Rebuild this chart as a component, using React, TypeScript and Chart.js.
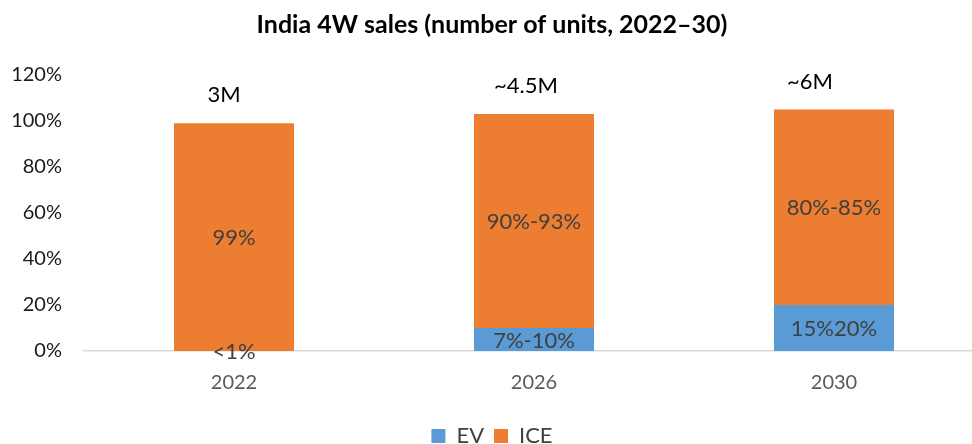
import React, { useEffect, useRef } from "react";
import { Chart, registerables } from "chart.js";

Chart.register(...registerables);

const categories = ["2022", "2026", "2030"];
const evShare = [0, 10, 20];
const iceShare = [99, 93, 85];
const evLabels = ["<1%", "7%-10%", "15%20%"];
const iceLabels = ["99%", "90%-93%", "80%-85%"];
const totalLabels = ["3M", "~4.5M", "~6M"];
const yMin = 0;
const yMax = 120;
const yStep = 20;

const FONT = "Lato, 'Noto Sans', sans-serif";

const labelPlugin = {
  id: "barLabels",
  afterDatasetsDraw(chart: any) {
    const ctx = chart.ctx;
    ctx.save();
    const sets = [evLabels, iceLabels];
    chart.data.datasets.forEach((_: any, di: number) => {
      const meta = chart.getDatasetMeta(di);
      meta.data.forEach((el: any, i: number) => {
        const y = (el.y + el.base) / 2;
        ctx.font = `22px ${FONT}`;
        ctx.fillStyle = "#404040";
        ctx.textAlign = "center";
        ctx.textBaseline = "middle";
        ctx.fillText(sets[di][i], el.x, y + 1);
      });
    });
    const top = chart.getDatasetMeta(chart.data.datasets.length - 1);
    const dx = [-10, -8, -24];
    top.data.forEach((el: any, i: number) => {
      ctx.font = `22px ${FONT}`;
      ctx.fillStyle = "#000000";
      ctx.textAlign = "center";
      ctx.textBaseline = "alphabetic";
      ctx.fillText(totalLabels[i], el.x + dx[i], el.y - 21);
    });
    ctx.restore();
  },
};

export default function App() {
  const ref = useRef<HTMLCanvasElement | null>(null);
  useEffect(() => {
    if (!ref.current) return;
    const chart = new Chart(ref.current, {
      type: "bar",
      data: {
        labels: categories,
        datasets: [
          {
            label: "EV",
            data: evShare,
            backgroundColor: "#5B9BD5",
            barPercentage: 0.4,
            categoryPercentage: 1,
          },
          {
            label: "ICE",
            data: iceShare,
            backgroundColor: "#ED7D31",
            barPercentage: 0.4,
            categoryPercentage: 1,
          },
        ],
      },
      options: {
        responsive: false,
        animation: false,
        devicePixelRatio: 1,
        layout: { padding: { left: 0, right: 20, top: 0, bottom: 0 } },
        plugins: {
          title: {
            display: true,
            text: "India 4W sales (number of units, 2022–30)",
            color: "#000000",
            font: { family: FONT, size: 25, weight: "bold" },
            padding: { top: 10, bottom: 35 },
          },
          legend: {
            position: "bottom",
            labels: {
              boxWidth: 14,
              boxHeight: 14,
              color: "#404040",
              font: { family: FONT, size: 22 },
              padding: 10,
            },
          },
          tooltip: { enabled: false },
        },
        scales: {
          x: {
            stacked: true,
            grid: { display: false, drawTicks: false },
            border: { display: true, color: "#d9d9d9", width: 1.5 },
            ticks: {
              color: "#595959",
              font: { family: FONT, size: 20 },
              padding: 20,
            },
            afterFit(scale: any) {
              scale.height = 64;
            },
          },
          y: {
            stacked: true,
            min: yMin,
            max: yMax,
            ticks: {
              stepSize: yStep,
              color: "#1a1a1a",
              font: { family: FONT, size: 20 },
              padding: 22,
              callback: (v: any) => v + "%",
            },
            grid: { display: false, drawTicks: false },
            border: { display: false },
            afterFit(scale: any) {
              scale.width = 84;
            },
          },
        },
      },
      plugins: [labelPlugin],
    } as any);
    return () => chart.destroy();
  }, []);
  return (
    <div
      style={{
        position: "fixed",
        left: 0,
        top: 0,
        width: 972,
        height: 444,
        overflow: "hidden",
        background: "#fff",
      }}
    >
      <canvas ref={ref} width={1004} height={457} style={{ width: 1004, height: 457, display: "block" }} />
    </div>
  );
}
